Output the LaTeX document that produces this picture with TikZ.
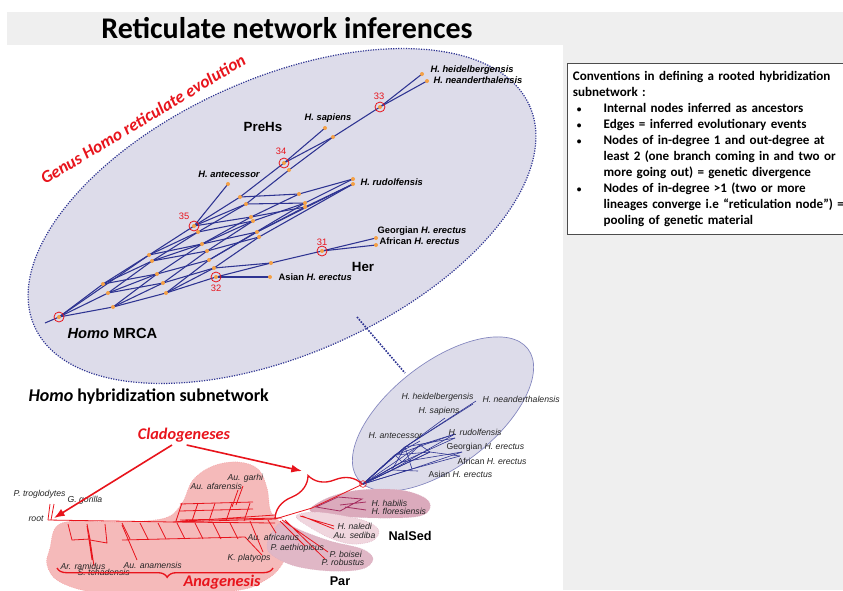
\documentclass[tikz,border=0pt]{standalone}
\usepackage{fontspec}
\setmainfont{Carlito}
\newfontfamily\arial{Liberation Sans}
\usepackage{tikz}
\usetikzlibrary{positioning, calc, arrows.meta, decorations.pathreplacing}
\definecolor{hnavy}{RGB}{46,52,146}
\definecolor{hlav}{RGB}{221,220,234}
\definecolor{hdot}{RGB}{244,160,70}
\definecolor{hred}{RGB}{232,20,28}
\definecolor{hpink}{RGB}{245,186,186}
\definecolor{hmauve}{RGB}{219,170,188}
\definecolor{hmauvel}{RGB}{240,214,222}
\definecolor{hpanel}{RGB}{239,239,239}
\definecolor{hplum}{RGB}{165,45,95}
\newcommand{\convitem}{\makebox[23pt][l]{\hspace{3pt}{\fontsize{7}{8}\selectfont\textbullet}}}
\newcommand{\convind}{\hspace*{23pt}}

\begin{document}
\begin{tikzpicture}[x=0.75pt,y=-0.75pt,
  dot/.style={circle,fill=hdot,inner sep=0pt,minimum size=3pt},
  ring/.style={circle,draw=hred,inner sep=0pt,minimum size=7.5pt,line width=0.6pt},
  hedge/.style={hnavy,line width=0.8pt},
  sedge/.style={hnavy,line width=0.45pt},
  num/.style={text=hred,inner sep=1pt,font=\arial\fontsize{7}{8}\selectfont},
  taxb/.style={inner sep=1pt,font=\arial\bfseries\fontsize{7}{8}\selectfont},
  taxs/.style={inner sep=1pt,text=black!85,font=\arial\itshape\fontsize{6.5}{7.5}\selectfont},
  grp/.style={inner sep=1pt,font=\arial\bfseries\fontsize{10}{12}\selectfont},
  redtxt/.style={text=hred,inner sep=1pt,font=\bfseries\itshape\fontsize{12.2}{14}\selectfont},
  redline/.style={hred,line width=0.6pt},
  redbrace/.style={hred,line width=1pt,decorate},
  redarrow/.style={hred,line width=1.2pt,-{Latex[length=8pt,width=6pt]}},
]
\useasboundingbox (0,0) rectangle (843,590);

% Panels
\fill[white] (0,0) rectangle (843,590);
\fill[hpanel] (7,12) rectangle (843,45);
\fill[hpanel] (563,45) rectangle (843,590);

% Title
\node[font=\bfseries\fontsize{22.5}{26}\selectfont] (title) at (287,28) {Reticulate network inferences};

% Conventions box
\node[draw=black!70,fill=white,line width=0.9pt,anchor=north west,inner xsep=4pt,inner ysep=4pt,
  text width=200pt,align=left,font=\bfseries\fontsize{9.8}{12}\selectfont] (conv) at (567,63)
  {\begin{tabular}{@{}l@{}}
   Conventions in defining a rooted hybridization\\
   subnetwork :\\
   \convitem Internal nodes inferred as ancestors\\
   \convitem Edges = inferred evolutionary events\\
   \convitem Nodes of in-degree 1 and out-degree at\\
   \convind least 2 (one branch coming in and two or\\
   \convind more going out) = genetic divergence\\
   \convitem Nodes of in-degree >1 (two or more\\
   \convind lineages converge i.e “reticulation node”) =\\
   \convind pooling of genetic material
   \end{tabular}};

% Homo subnetwork (large)
\draw[hnavy,densely dotted,line width=0.9pt,fill=hlav,rotate around={24:(282,216)}] (282,216) ellipse (271 and 138);
\coordinate (bigtip) at (357,317);

% Zoomed-out subnetwork (small)
\draw[hnavy!60,line width=0.5pt,fill=hlav,rotate around={37.5:(443,414)}] (443,414) ellipse (107 and 52);
\coordinate (smalltop) at (405,373);
\draw[hnavy,densely dotted,line width=1.2pt] (bigtip) -- (smalltop);

\node[redtxt,font=\bfseries\itshape\fontsize{13}{15}\selectfont,rotate=31] (genus) at (143,119) {Genus Homo reticulate evolution};

% Network nodes
\foreach \n/\x/\y in {m/59/317, a1/103/284, a2/108/293, a3/113/307, b1/149/255, b2/152/261,
  b3/157/274, b4/163/283, b5/166/293, c0/194/226, c0b/198/232, c1/202/244, c2/207/251,
  c3/209/260, c4/214/268, n32/216/277, ant/228/184, d1/240/197, d2/246/204, d3/251/217,
  d4/253/221, d5/257/232, d6/259/237, e1/271/263, asi/270/277, s34/284/163, s2/289/170,
  f1/299/194, f2/305/203, f3/305/207, g1/333/137, sap/325/128, rud1/353/179, rud2/353/184,
  n33/380/107, heid/422/74, nean/427/81, n31/322/251, geo/376/238, afr/376/245}
  \coordinate (\n) at (\x,\y);
\coordinate (mstub) at (45,323);

% Network edges
\draw[hedge] (mstub) -- (m);
\foreach \a/\b in {m/a1, m/a2, m/a3, m/b1, a1/b1, a1/b2, a1/b3, a2/b2, a2/b4, a3/b3, a3/b4,
  a3/b5, b1/c0, b1/c0b, b1/c1, b2/c0b, b2/c2, b3/c1, b3/c3, b4/c2, b4/c4, b5/c3, b5/c4,
  b5/n32, c0/ant, c0/d1, c0/d3, c0b/d2, c0b/d4, c1/d3, c1/d5, c2/d4, c2/d6, c3/d5, c3/f2,
  c4/d6, c4/e1, n32/asi, n32/e1, e1/n31, n31/geo, n31/afr, d1/s34, d2/s2, d1/f1, d2/f2,
  d3/f1, d3/f3, d4/f2, d5/f3, d5/rud2, d6/rud2, f1/rud1, f2/rud1, f3/rud2, s34/sap,
  s34/g1, s2/g1, g1/n33, n33/heid, n33/nean, c0/d2, a2/b3, b2/c1, c1/d4}
  \draw[hedge] (\a) -- (\b);
\foreach \n in {m, a1, a2, a3, b1, b2, b3, b4, b5, c0, c0b, c1, c2, c3, c4, n32, ant, d1, d2,
  d3, d4, d5, d6, e1, asi, s34, s2, f1, f2, f3, g1, sap, rud1, rud2, n33, heid, nean, n31, geo, afr}
  \node[dot] (\n-d) at (\n) {};
\foreach \n in {m, c0, s34, n33, n31, n32}
  \node[ring] (\n-r) at (\n) {};

% Node numbers
\node[num] (l33) at (379,96) {33};
\node[num] (l34) at (281,151) {34};
\node[num] (l35) at (184,216) {35};
\node[num] (l31) at (322,242) {31};
\node[num] (l32) at (216,288) {32};

% Taxa (large)
\node[taxb,anchor=west] (lheid) at (429,70) {\itshape H. heidelbergensis};
\node[taxb,anchor=west] (lnean) at (432,80) {\itshape H. neanderthalensis};
\node[taxb] (lsap) at (328,118) {\itshape H. sapiens};
\node[taxb] (lant) at (229,174) {\itshape H. antecessor};
\node[taxb,anchor=west] (lrud) at (359,182) {\itshape H. rudolfensis};
\node[taxb,anchor=west] (lgeo) at (376,231) {Georgian \textit{H. erectus}};
\node[taxb,anchor=west] (lafr) at (378,241) {African \textit{H. erectus}};
\node[taxb,anchor=west] (lasi) at (277,277) {Asian \textit{H. erectus}};
\node[grp] (preh) at (263,127) {PreHs};
\node[grp] (her) at (363,267) {Her};
\node[grp,anchor=west,font=\arial\bfseries\fontsize{11}{13}\selectfont] (mrca) at (66,333) {\textit{Homo} MRCA};
\node[anchor=west,inner sep=1pt,font=\bfseries\fontsize{13.5}{16}\selectfont] (subnet) at (27,397) {\textit{Homo} hybridization subnetwork};

% Small network
\foreach \n/\x/\y in {sroot/363/484, sv1/395/455, sv2/402/462, sv3/405/447, sv4/412/469,
  sv5/392/470, sv6/420/445, sv7/430/452, sneand/476/401, sheid/473/404, ssap/445/418,
  srud1/455/434, srud2/455/438, sant/420/441, sgeo/462/452, safr/460/456, sasia/418/471}
  \coordinate (\n) at (\x,\y);
\foreach \a/\b/\c in {sroot/sv1/ssap, sroot/sv1/srud1, sroot/sv3/sneand, sroot/sv3/sheid,
  sroot/sv2/srud2, sroot/sv2/sgeo, sroot/sv4/safr, sroot/sv5/sasia, sroot/sv1/sant,
  sroot/sv5/srud1, sroot/sv4/sgeo, sroot/sv3/srud2, sroot/sv6/srud1, sroot/sv7/safr,
  sroot/sv2/sv6, sroot/sv5/sv7}
  \draw[sedge] (\a) -- (\b) -- (\c);
\draw[sedge] (sv1) -- (sv2) (sv3) -- (sv4) (sv5) -- (sv3) (sv6) -- (sv7) (sv1) -- (sv7);
\node[ring,minimum size=5pt,line width=0.4pt] (sroot-r) at (sroot) {};

\node[taxs,anchor=west] (sheidl) at (400,397) {H. heidelbergensis};
\node[taxs,anchor=west] (sneandl) at (481,399) {H. neanderthalensis};
\node[taxs,anchor=west] (ssapl) at (417,411) {H. sapiens};
\node[taxs,anchor=west] (santl) at (367,436) {H. antecessor};
\node[taxs,anchor=west] (srudl) at (447,432) {H. rudolfensis};
\node[taxs,anchor=west] (sgeol) at (445,447) {\upshape Georgian \itshape H. erectus};
\node[taxs,anchor=west] (safrl) at (456,461) {\upshape African \itshape H. erectus};
\node[taxs,anchor=west] (sasil) at (427,474) {\upshape Asian \itshape H. erectus};

% Australopith region
\fill[hpink,draw=hred!45,densely dotted] plot[smooth cycle,tension=0.6] coordinates {(50,548) (56,527)
  (75,521) (120,522) (165,518) (182,503) (193,480) (213,466) (238,462) (258,469) (267,488)
  (271,512) (284,527) (288,550) (278,570) (262,582) (240,590) (180,595) (100,593) (60,582) (47,565)};
\fill[hmauve,draw=hplum!40,densely dotted] plot[smooth cycle,tension=0.6] coordinates {(310,509)
  (330,497) (360,490) (400,490) (425,498) (430,508) (420,516) (390,518) (350,517) (320,514)};
\fill[hmauvel,draw=hplum!40,densely dotted] plot[smooth cycle,tension=0.6] coordinates {(296,516)
  (315,512) (345,516) (368,522) (379,531) (372,541) (352,544) (330,538) (308,526)};
\fill[hmauve!85,draw=hplum!40,densely dotted] plot[smooth cycle,tension=0.6] coordinates {(283,522)
  (300,530) (330,541) (362,549) (373,559) (362,569) (330,571) (295,566) (272,555) (267,545) (272,532)};

% Stem and ladders
\foreach \n/\x/\y in {broot/48/520, st1/173/522, st2/275/519, st3/312/508}
  \coordinate (\n) at (\x,\y);
\draw[redline] (broot) -- (st1) -- (st2) -- (st3) -- (sroot);
\draw[redline] (st1) -- (275,515) (st1) -- (275,523) (180,520) -- (282,518);
\draw[redline] (broot) -- (50,504) (51,520) -- (54,504);
\draw[redline] (68,524) -- (72,540) -- (90,539) -- (87,524) (87,524) -- (90,540) -- (107,543) -- (105,524);
\draw[redline] (87,526) -- (92,560) (90,540) -- (94,566);
\draw[redline] (122,540) -- (245,537);
\foreach \x in {122,140,158,177,195,213,230}
  \draw[redline] (\x,523) -- (\x+8,539);
\draw[redline] (122,525) -- (137,560);
\draw[redline] (180,504) -- (253,502) (180,511) -- (253,509);
\foreach \x in {182,198,215,232,250}
  \draw[redline] (\x,503) -- (\x-6,521);
\draw[redline] (236,505) -- (243,486) (232,507) -- (238,490);
\draw[redline] (245,537) -- (262,555) (250,521) -- (263,552);
\draw[redline] (268,520) -- (276,533) (282,520) -- (328,552) (285,520) -- (325,559) (280,521) -- (305,546);
\draw[redline] (300,516) -- (334,526) (302,516) -- (334,529);
\draw[hplum,line width=0.6pt] (316,507) -- (338,497) -- (362,499) -- (340,511) -- cycle
  (340,505) -- (366,502) (345,507) -- (366,510);

% Bottom taxa
\node[taxs,anchor=west] (ptro) at (12,494) {P. troglodytes};
\node[taxs,anchor=west] (ggor) at (66,500) {G. gorilla};
\node[taxs,anchor=west] (rootl) at (27,519) {root};
\node[taxs,anchor=west] (aram) at (59,566) {Ar. ramidus};
\node[taxs,anchor=west] (stch) at (76,572) {S. tchadensis};
\node[taxs,anchor=west] (aana) at (122,565) {Au. anamensis};
\node[taxs,anchor=west] (agar) at (226,478) {Au. garhi};
\node[taxs,anchor=west] (aafa) at (189,486) {Au. afarensis};
\node[taxs,anchor=west] (kpla) at (226,558) {K. platyops};
\node[taxs,anchor=west] (aafr) at (246,537) {Au. africanus};
\node[taxs,anchor=west] (paet) at (269,548) {P. aethiopicus};
\node[taxs,anchor=west] (hhab) at (370,503) {H. habilis};
\node[taxs,anchor=west] (hflo) at (370,511) {H. floresiensis};
\node[taxs,anchor=west] (hnal) at (336,526) {H. naledi};
\node[taxs,anchor=west] (ased) at (332,535) {Au. sediba};
\node[taxs,anchor=west] (pboi) at (328,554) {P. boisei};
\node[taxs,anchor=west] (prob) at (320,562) {P. robustus};
\node[grp,anchor=west,font=\arial\bfseries\fontsize{9.5}{11}\selectfont] (nalsed) at (387,536) {NalSed};
\node[grp,font=\arial\bfseries\fontsize{9.5}{11}\selectfont] (par) at (340,581) {Par};

% Cladogeneses / Anagenesis
\node[redtxt] (clado) at (184,435) {Cladogeneses};
\coordinate (arrroot) at (54,518);
\coordinate (arrbrace) at (302,471);
\draw[redarrow] ([xshift=-9pt,yshift=-1pt]clado.south) -- (arrroot);
\draw[redarrow] ([xshift=2pt,yshift=-1pt]clado.south) -- (arrbrace);
\coordinate (bra) at (275,519);
\coordinate (brb) at (362,484);
\draw[redbrace,decoration={brace,amplitude=21pt}] (bra) -- (brb);
\coordinate (ana1) at (273,568);
\coordinate (ana2) at (57,568);
\draw[redbrace,decoration={brace,amplitude=7pt,aspect=0.49}] (ana1) -- (ana2);
\node[redtxt] (ana) at (222,582) {Anagenesis};
\end{tikzpicture}
\end{document}
